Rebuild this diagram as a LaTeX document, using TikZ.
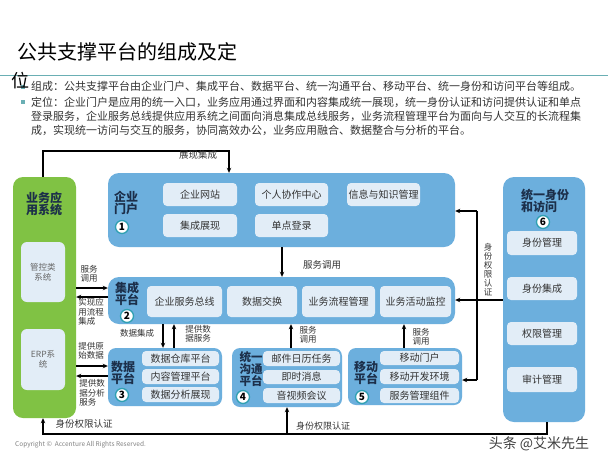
\documentclass[tikz,border=0pt]{standalone}
\usepackage{fontspec}
\setmainfont{Noto Sans CJK SC}
\usetikzlibrary{arrows.meta}
\definecolor{pblue}{HTML}{6CAFDD}
\definecolor{plight}{HTML}{E2EDF7}
\definecolor{pgreen}{HTML}{80C244}
\definecolor{navy}{HTML}{1C2F4A}
\definecolor{txt}{HTML}{333333}
\definecolor{tealc}{HTML}{2FA0B2}
\definecolor{hline}{HTML}{6AAFB4}
\newcommand{\mybox}[7]{\node[#6, minimum width={(#4-#2)*1pt}, minimum height={(#5-#3)*1pt}] (#1) at ({(#2+#4)/2},{(#3+#5)/2}) {#7};}
\begin{document}
\begin{tikzpicture}[x=1pt,y=-1pt,
  obox/.style={fill=pblue, rounded corners=11pt, inner sep=0pt},
  sbox/.style={fill=pblue, rounded corners=8pt, inner sep=0pt},
  gbox/.style={fill=pgreen, rounded corners=10pt, inner sep=0pt},
  ibox/.style={fill=plight, rounded corners=4pt, inner sep=0pt, text=txt, font=\fontsize{10}{12}\selectfont},
  abox/.style={fill=plight, rounded corners=6pt, inner sep=0pt, text=gray!80!black, align=center, font=\fontsize{8.5}{10}\selectfont},
  ttl/.style={font=\fontsize{12}{12.5}\selectfont\bfseries, text=navy, align=center, inner sep=0pt},
  num/.style={circle, draw=tealc, line width=1.3pt, fill=white, inner sep=0pt, minimum size=13pt, font=\fontsize{10}{10}\selectfont\bfseries},
  lbl/.style={font=\fontsize{8.5}{9.5}\selectfont, align=center, inner sep=0pt, text=txt},
  arr/.style={-{Stealth[length=5pt,width=4.5pt]}, line width=1.1pt},
  ln/.style={line width=1.1pt},
  btxt/.style={anchor=west, inner sep=0pt, text=txt, font=\fontsize{11}{13}\selectfont}]
\useasboundingbox (0,0) rectangle (608,456);
\fill[white] (0,0) rectangle (608,456);

% header
\draw[hline, line width=1pt] (0,75) -- (608,75);
\node[anchor=west, inner sep=0pt, font=\fontsize{20}{22}\selectfont] (t1) at (17,52) {公共支撑平台的组成及定};
\node[fill=hline, minimum size=3.5pt, inner sep=0pt] (b1) at (23,87) {};
\node[fill=hline, minimum size=3.5pt, inner sep=0pt] (b2) at (23,102) {};
\node[anchor=west, inner sep=0pt, font=\fontsize{18}{20}\selectfont] (t2) at (11,81) {位};
\node[btxt] (l1) at (31,86) {组成：公共支撑平台由企业门户、集成平台、数据平台、统一沟通平台、移动平台、统一身份和访问平台等组成。};
\node[btxt] (l2) at (31,102) {定位：企业门户是应用的统一入口，业务应用通过界面和内容集成统一展现，统一身份认证和访问提供认证和单点};
\node[btxt] (l3) at (31,116) {登录服务，企业服务总线提供应用系统之间面向消息集成总线服务，业务流程管理平台为面向与人交互的长流程集};
\node[btxt] (l4) at (31,130) {成，实现统一访问与交互的服务，协同高效办公，业务应用融合、数据整合与分析的平台。};

% application systems
\mybox{app}{13}{177}{76}{418}{gbox}{}
\node[ttl] (appt) at (44,204) {业务应\\用系统};
\mybox{ctrl}{21}{242}{65}{302}{abox}{管控类\\系统}
\mybox{erp}{21}{329}{65}{390}{abox}{ERP系\\统}

% portal
\mybox{portal}{108}{173}{455}{247}{obox}{}
\node[ttl] (portalt) at (126,203) {企业\\门户};
\node[num] (n1) at (122,227) {1};
\mybox{web}{163}{183}{237}{206}{ibox}{企业网站}
\mybox{show}{163}{214}{237}{237}{ibox}{集成展现}
\mybox{collab}{255}{183}{328}{206}{ibox}{个人协作中心}
\mybox{sso}{255}{214}{328}{237}{ibox}{单点登录}
\mybox{know}{347}{183}{420}{206}{ibox}{信息与知识管理}

% integration
\mybox{integ}{108}{277}{455}{324}{obox}{}
\node[ttl] (integt) at (127,294) {集成\\平台};
\node[num] (n2) at (127,316) {2};
\mybox{esb}{147}{286}{222}{317}{ibox}{企业服务总线}
\mybox{dx}{227}{286}{297}{317}{ibox}{数据交换}
\mybox{bpm}{302}{286}{375}{317}{ibox}{业务流程管理}
\mybox{bam}{380}{286}{451}{317}{ibox}{业务活动监控}

% data
\mybox{data}{108}{348}{222}{406}{sbox}{}
\node[ttl] (datat) at (123,373) {数据\\平台};
\node[num] (n3) at (122,395) {3};
\mybox{dw}{142}{351}{219}{366}{ibox}{数据仓库平台}
\mybox{cms}{142}{369}{219}{384}{ibox}{内容管理平台}
\mybox{da}{142}{387}{219}{402}{ibox}{数据分析展现}

% unified communication
\mybox{comm}{232}{348}{342}{407}{sbox}{}
\node[ttl, font=\fontsize{11.5}{11}\selectfont\bfseries] (commt) at (251,369) {统一\\沟通\\平台};
\node[num] (n4) at (243,397) {4};
\mybox{mail}{263}{351}{340}{366}{ibox}{邮件日历任务}
\mybox{im}{263}{370}{340}{384}{ibox}{即时消息}
\mybox{av}{263}{388}{340}{403}{ibox}{音视频会议}

% mobile
\mybox{mobile}{348}{348}{462}{405}{sbox}{}
\node[ttl] (mobt) at (366,373) {移动\\平台};
\node[num] (n5) at (362,397) {5};
\mybox{mp}{380}{351}{459}{365}{ibox}{移动门户}
\mybox{mdev}{380}{369}{459}{384}{ibox}{移动开发环境}
\mybox{svc}{380}{388}{459}{403}{ibox}{服务管理组件}

% identity
\mybox{ident}{503}{177}{585}{422}{obox}{}
\node[ttl, align=left, anchor=west] (identt) at (521,201) {统一身份\\和访问};
\node[num] (n6) at (543,222) {6};
\mybox{idm}{507}{231}{577}{255}{ibox}{身份管理}
\mybox{idi}{507}{277}{577}{300}{ibox}{身份集成}
\mybox{auth}{507}{322}{577}{345}{ibox}{权限管理}
\mybox{audit}{507}{367}{577}{392}{ibox}{审计管理}

% top connector
\draw[arr] (app.north -| 43,0) -- (43,151) -| (portal.north -| 229,0);
\node[lbl, font=\fontsize{9.5}{10}\selectfont] (lzx) at (198,155) {展现集成};

% portal -> integration
\draw[arr] (portal.south -| 282,0) -- (integ.north -| 282,0);
\node[lbl, font=\fontsize{9.5}{10}\selectfont] (lfd1) at (322,265) {服务调用};

% app <-> integration
\draw[arr] (app.east |- 0,288) -- (integ.west |- 0,288);
\node[lbl] (lfd2) at (89,274) {服务\\调用};
\draw[arr] (integ.west |- 0,297) -- (app.east |- 0,297);
\node[lbl, align=left] (lsx) at (91,312) {实现应\\用流程\\集成};

% app <-> data
\draw[arr] (app.east |- 0,366) -- (data.west |- 0,366);
\node[lbl] (ltgy) at (91,351) {提供原\\始数据};
\draw[arr] (data.west |- 0,376) -- (app.east |- 0,376);
\node[lbl, align=left] (ltgf) at (92,393) {提供数\\据分析\\服务};

% integration <-> data
\draw[arr] (integ.south -| 163,0) -- (data.north -| 163,0);
\node[lbl] (lsjjc) at (137,333) {数据集成};
\draw[arr] (data.north -| 174,0) -- (integ.south -| 174,0);
\node[lbl] (ltgsj) at (198,334) {提供数\\据服务};

% comm -> integration
\draw[arr] (comm.north -| 291,0) -- (integ.south -| 291,0);
\node[lbl] (lfd3) at (308,335) {服务\\调用};

% mobile -> integration
\draw[arr] (mobile.north -| 404,0) -- (integ.south -| 404,0);
\node[lbl] (lfd4) at (421,337) {服务\\调用};

% identity connectors
\draw[arr] (ident.west |- 0,300) -- (integ.east |- 0,300);
\draw[ln] (477,211) -- (477,380);
\draw[arr] (477,211) -- (portal.east |- 0,211);
\draw[arr] (477,380) -- (mobile.east |- 0,380);
\node[lbl, font=\fontsize{8.5}{9}\selectfont] (lsf1) at (488,270) {身\\份\\权\\限\\认\\证};

% bottom connector
\draw[arr] (ident.south -| 547,0) -- (547,434) -| (app.south -| 43,0);
\draw[arr] (287,434) -- (comm.south -| 287,0);
\node[lbl, font=\fontsize{9.5}{10}\selectfont] (lsf2) at (84,424) {身份权限认证};
\node[lbl, font=\fontsize{9}{10}\selectfont] (lsf3) at (323,426) {身份权限认证};

% footer
\node[anchor=west, inner sep=0pt, text=gray, font=\fontsize{6.5}{7}\selectfont] (cr) at (15,445) {Copyright ©\ \ Accenture All Rights Reserved.};
\node[inner sep=0pt, text=black!75, font=\fontsize{14}{14}\selectfont] (wm) at (539,444) {头条 @艾米先生};
\end{tikzpicture}
\end{document}
